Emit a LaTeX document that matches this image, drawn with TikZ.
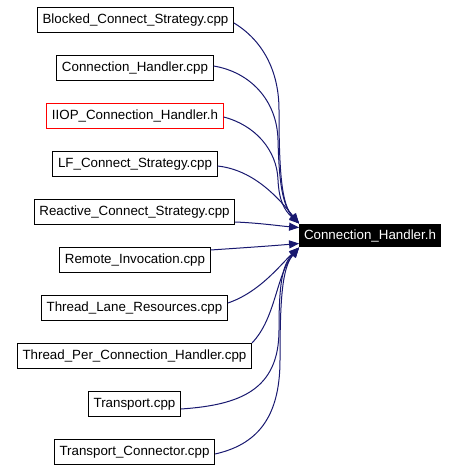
\documentclass[tikz,border=0pt]{standalone}
\usepackage{fontspec}
\setmainfont{Liberation Sans}
\usetikzlibrary{arrows.meta}
\definecolor{edgeblue}{HTML}{191970}

\begin{document}
\begin{tikzpicture}[x=0.75pt, y=-0.75pt,
    file/.style={draw, line width=0.75pt, inner xsep=3.8pt, minimum height=18.75pt, font=\fontsize{10pt}{12pt}\selectfont},
    header/.style={fill=black, text=white, inner xsep=3.5pt, minimum height=17.25pt, font=\fontsize{10pt}{12pt}\selectfont},
    dep/.style={edgeblue, line width=0.75pt, -{Triangle[length=7.5pt, width=6pt]}}]
    \useasboundingbox (0,0) rectangle (456,470);
    \node [header]          (ch)   at (370,235.5) {Connection\_Handler.h};
    \node [file]            (bcs)  at (135.5,20)  {Blocked\_Connect\_Strategy.cpp};
    \node [file]            (chc)  at (135,68)    {Connection\_Handler.cpp};
    \node [file, draw=red]  (iiop) at (135,116)   {IIOP\_Connection\_Handler.h};
    \node [file]            (lfcs) at (135,164)   {LF\_Connect\_Strategy.cpp};
    \node [file]            (rcs)  at (134.5,212) {Reactive\_Connect\_Strategy.cpp};
    \node [file]            (ri)   at (135,260)   {Remote\_Invocation.cpp};
    \node [file]            (tlr)  at (134.5,308) {Thread\_Lane\_Resources.cpp};
    \node [file]            (tpch) at (134.5,356) {Thread\_Per\_Connection\_Handler.cpp};
    \node [file]            (tr)   at (134.5,404) {Transport.cpp};
    \node [file]            (trc)  at (134.5,452) {Transport\_Connector.cpp};
    % upper group
    \draw [dep] ([shift={(0,3)}]bcs.east) .. controls (262,40) and (279,70) .. (279,110)
                .. controls (279,175) and (282,205) .. ([shift={(0,-12)}]ch.west);
    \draw [dep] ([shift={(0,-2)}]chc.east) .. controls (250,72) and (277,100) .. (278,140)
                .. controls (279,180) and (282,205) .. ([shift={(0,-12)}]ch.west);
    \draw [dep] ([shift={(0,1)}]iiop.east) .. controls (255,125) and (277,150) .. (278,180)
                .. controls (279,200) and (284,210) .. ([shift={(0,-12)}]ch.west);
    \draw [dep] ([shift={(0,2)}]lfcs.east) .. controls (255,170) and (280,200) .. ([shift={(0,-12)}]ch.west);
    % straight ones
    \draw [dep] ([shift={(0,10)}]rcs.east) .. controls (260,223) and (280,226) .. ([shift={(0,-8)}]ch.west);
    \draw [dep] ([shift={(0,-10)}]ri.east) .. controls (240,248) and (270,246) .. ([shift={(0,8)}]ch.west);
    % lower group
    \draw [dep] ([shift={(0,-5)}]tlr.east) .. controls (260,292) and (280,265) .. ([shift={(0,12)}]ch.west);
    \draw [dep] ([shift={(0,-13)}]tpch.east) .. controls (276,318) and (276,275) .. ([shift={(0,12)}]ch.west);
    \draw [dep] ([shift={(0,5)}]tr.east) .. controls (240,405) and (279,390) .. (279,330)
                .. controls (279,285) and (282,265) .. ([shift={(0,12)}]ch.west);
    \draw [dep] ([shift={(0,2)}]trc.east) .. controls (255,445) and (280,420) .. (280,360)
                .. controls (280,300) and (282,268) .. ([shift={(0,12)}]ch.west);
\end{tikzpicture}
\end{document}
